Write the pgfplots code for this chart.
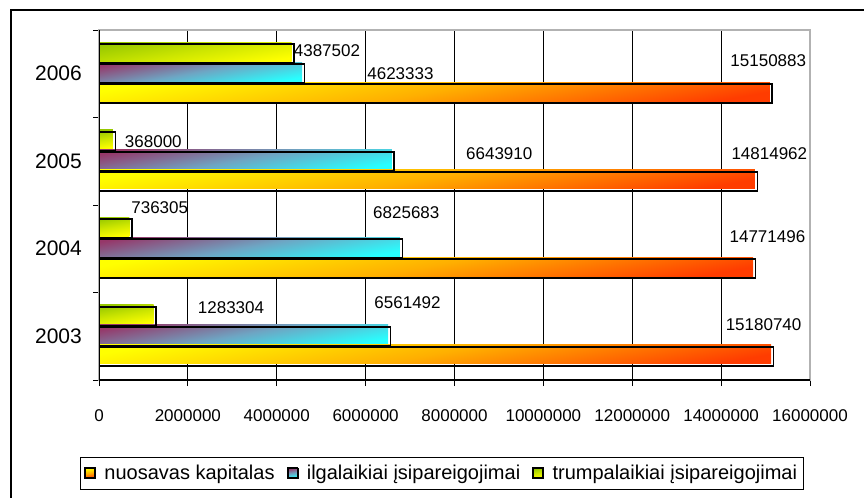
\documentclass[border=0pt]{standalone}
\usepackage{fontspec}
\setmainfont{Liberation Sans}
\usepackage{pgfplots}
\usepackage{pgfplotstable}
\pgfplotsset{compat=1.18}

\definecolor{nuosA}{RGB}{255,255,0}
\definecolor{nuosB}{RGB}{255,175,0}
\definecolor{nuosC}{RGB}{255,60,0}
\definecolor{ilgA}{RGB}{150,55,105}
\definecolor{ilgB}{RGB}{110,165,195}
\definecolor{ilgC}{RGB}{40,255,255}
\definecolor{trA}{RGB}{150,200,0}
\definecolor{trB}{RGB}{205,230,0}
\definecolor{trC}{RGB}{255,255,0}

\tikzset{
  nuosfill/.style={top color=nuosA, bottom color=nuosC, middle color=nuosB, shading angle=10},
  ilgfill/.style={top color=ilgA, bottom color=ilgC, middle color=ilgB, shading angle=10},
  trfill/.style={top color=trA, bottom color=trC, middle color=trB, shading angle=10},
}

% y: 0=2003 ... 3=2006 ; dx, dy = label offset in px from bar end / category centre
\pgfplotstableread{
y x lab dx dy
0 15180740 15180740 -10 12
1 14771496 14771496 12 12
2 14814962 14814962 12 8
3 15150883 15150883 -4 13
}\nuos
\pgfplotstableread{
y x lab dx dy
0 6561492 6561492 17 34
1 6825683 6825683 4 36
2 6643910 6643910 105 8
3 4623333 4623333 96 0
}\ilg
\pgfplotstableread{
y x lab dx dy
0 1283304 1283304 75 29
1 736305 736305 28 41
2 368000 368000 38 20
3 4387502 4387502 33 23
}\trump

\begin{document}
\begin{tikzpicture}
\clip (0,0) rectangle (648pt,-372.75pt);
\draw[line width=1.5pt] (8.25pt,-7.5pt) rectangle (720pt,-420pt);
\begin{axis}[
  at={(74.25pt,-22.5pt)}, anchor=north west,
  scale only axis, width=533.25pt, height=262.5pt,
  xmin=0, xmax=16000000, ymin=-0.5, ymax=3.5,
  xtick={0,2000000,4000000,6000000,8000000,10000000,12000000,14000000,16000000},
  xticklabels={0,2000000,4000000,6000000,8000000,10000000,12000000,14000000,16000000},
  scaled x ticks=false,
  xmajorgrids, grid style={black, line width=0.6pt},
  ytick={-0.5,0.5,1.5,2.5,3.5}, yticklabels={},
  extra y ticks={0,1,2,3}, extra y tick labels={2003,2004,2005,2006},
  extra y tick style={major tick length=0pt, grid=none},
  tick pos=left, tick align=outside, major tick length=4.5pt,
  tick style={black, line width=0.6pt},
  axis line style={gray!60, line width=1pt},
  xticklabel style={font=\fontsize{12.75}{15}\selectfont, anchor=center, yshift=-22pt},
  yticklabel style={font=\fontsize{15.75}{18}\selectfont, anchor=center, xshift=-30.4pt},
  legend columns=3,
  legend style={at={(0.4824,-0.2671)}, anchor=center, draw=black, line width=0.7pt,
    font=\fontsize{15}{18}\selectfont, inner xsep=3pt, inner ysep=4pt,
    /tikz/every even column/.append style={column sep=7pt}},
  nodes near coords style={font=\fontsize{12.75}{15}\selectfont, anchor=center,
    xshift=\dx*0.75pt, yshift=\dy*0.75pt, text=black},
]
% shaded fills, one bar at a time so that each bar gets its own gradient
\pgfplotsinvokeforeach{0,1,2,3}{
\addplot[xbar, bar width=14.25pt, bar shift=-15pt, draw=none, nuosfill,
  y filter/.expression={abs(y-#1)<0.2 ? y : nan},
  xshift=-1.8pt, yshift=1.5pt, forget plot] table[x=x,y=y]{\nuos};
\addplot[xbar, bar width=14.25pt, bar shift=0pt, draw=none, ilgfill,
  y filter/.expression={abs(y-#1)<0.2 ? y : nan},
  xshift=-1.8pt, yshift=1.5pt, forget plot] table[x=x,y=y]{\ilg};
\addplot[xbar, bar width=14.25pt, bar shift=15pt, draw=none, trfill,
  y filter/.expression={abs(y-#1)<0.2 ? y : nan},
  xshift=-1.8pt, yshift=1.5pt, forget plot] table[x=x,y=y]{\trump};
}
% outlines with labels
\addplot[xbar, bar width=14.25pt, bar shift=-15pt, draw=black, line width=1.2pt, fill=none,
  nodes near coords, point meta=explicit symbolic,
  visualization depends on={\thisrow{dx} \as \dx},
  visualization depends on={\thisrow{dy} \as \dy},
  legend image code/.code={\fill[nuosfill] (0pt,-3.5pt) rectangle (7.5pt,4pt);
    \draw[black, line width=0.8pt] (0.6pt,-4pt) rectangle (8pt,3.5pt);
    \path (12pt,0pt);}]
  table[x=x,y=y,meta=lab]{\nuos};
\addlegendentry{nuosavas kapitalas}
\addplot[xbar, bar width=14.25pt, bar shift=0pt, draw=black, line width=1.2pt, fill=none,
  nodes near coords, point meta=explicit symbolic,
  visualization depends on={\thisrow{dx} \as \dx},
  visualization depends on={\thisrow{dy} \as \dy},
  legend image code/.code={\fill[ilgfill] (0pt,-3.5pt) rectangle (7.5pt,4pt);
    \draw[black, line width=0.8pt] (0.6pt,-4pt) rectangle (8pt,3.5pt);
    \path (12pt,0pt);}]
  table[x=x,y=y,meta=lab]{\ilg};
\addlegendentry{ilgalaikiai įsipareigojimai}
\addplot[xbar, bar width=14.25pt, bar shift=15pt, draw=black, line width=1.2pt, fill=none,
  nodes near coords, point meta=explicit symbolic,
  visualization depends on={\thisrow{dx} \as \dx},
  visualization depends on={\thisrow{dy} \as \dy},
  legend image code/.code={\fill[trfill] (0pt,-3.5pt) rectangle (7.5pt,4pt);
    \draw[black, line width=0.8pt] (0.6pt,-4pt) rectangle (8pt,3.5pt);
    \path (12pt,0pt);}]
  table[x=x,y=y,meta=lab]{\trump};
\addlegendentry{trumpalaikiai įsipareigojimai}
\draw[black, line width=0.8pt] (rel axis cs:0,1) -- (rel axis cs:0,0) -- (rel axis cs:1,0);
\end{axis}
\end{tikzpicture}
\end{document}
